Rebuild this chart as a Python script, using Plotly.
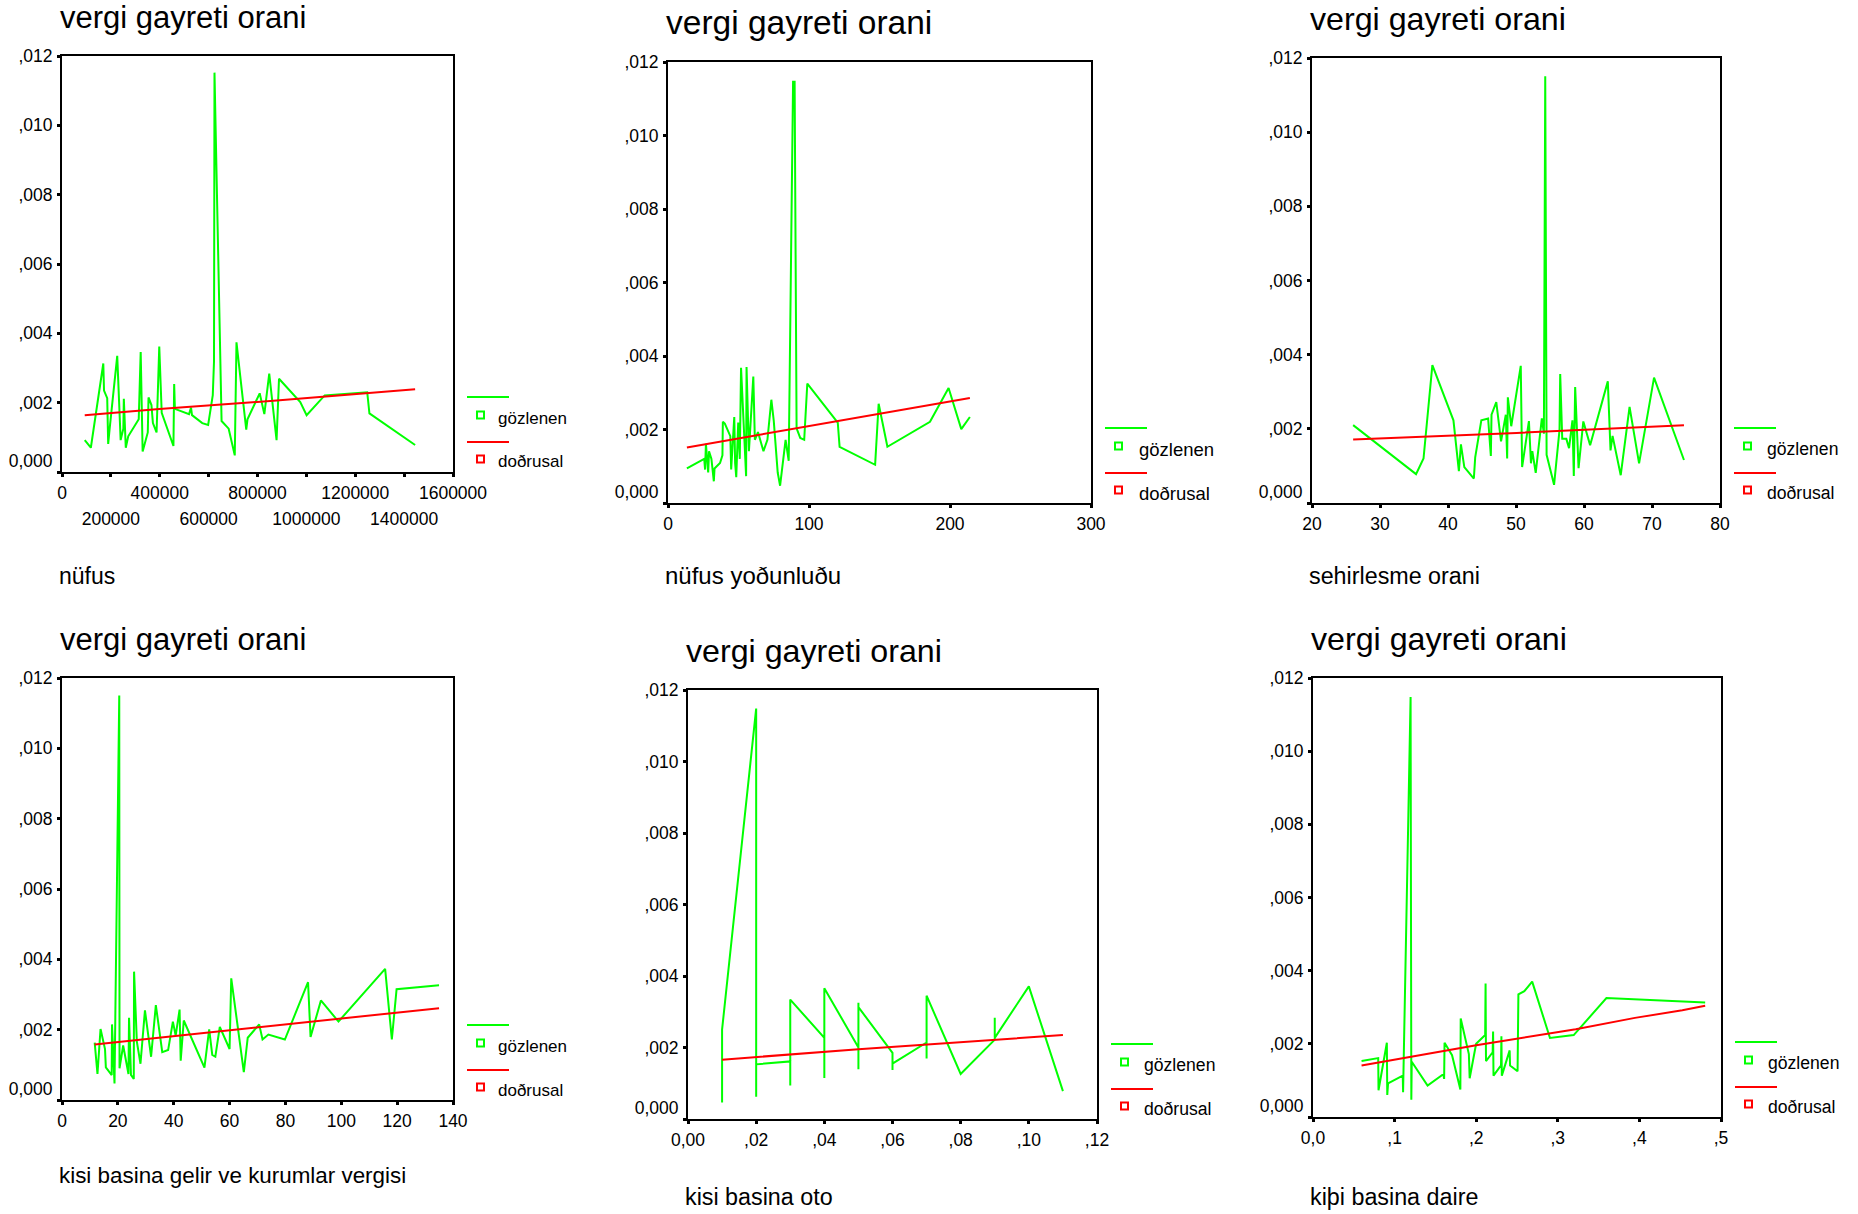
import plotly.graph_objects as go

W, H = 1858, 1214          # page size (body margin removed below)
FONT = "Liberation Sans, Arial, Helvetica, sans-serif"
GREEN = "#00ff00"
RED = "#ff0000"

# ---------------- data ----------------
# 1) nüfus
nufus_x = [93000, 118000, 169000, 172000, 185000, 189000, 195000, 226000, 240000, 251000,
           253000, 261000, 271000, 314000, 322000, 330000, 351000, 354000, 366000, 372000,
           387000, 398000, 408000, 456000, 459000, 462000, 520000, 528000, 532000, 574000,
           598000, 617000, 622000, 624000, 653000, 682000, 707000, 714000, 736000, 754000,
           759000, 809000, 828000, 848000, 878000, 888000, 975000, 1001000, 1075000, 1249000,
           1258000, 1445000]
nufus_obs = [.00092, .00070, .00313, .00235, .00213, .00081, .00125, .00335, .00092, .00125,
             .00211, .00070, .00103, .00152, .00346, .00059, .00114, .00215, .00193, .00141,
             .00114, .00362, .00171, .00075, .00254, .00182, .00167, .00186, .00164, .00141,
             .00136, .00222, .00318, .01152, .00147, .00125, .00048, .00374, .00235, .00122,
             .00152, .00227, .00167, .00284, .00092, .00269, .00202, .00164, .00221, .00230,
             .00169, .00078]
nufus_fit_x = [93000, 398000, 878000, 1249000, 1445000]
nufus_fit = [.00164, .00182, .00206, .00228, .00239]

# 2) nüfus yoðunluðu
yog_x = [13.4, 25.7, 26.3, 26.9, 28.5, 29.1, 30.8, 32.5, 33.0, 36.9, 38.6, 38.9, 40.3, 44.2,
         44.8, 47.0, 47.6, 48.4, 49.8, 50.9, 51.8, 55.4, 55.7, 56.8, 57.4, 60.5, 61.6, 63.8,
         67.7, 70.5, 73.3, 75.0, 77.8, 79.5, 83.4, 85.6, 88.7, 89.8, 91.2, 93.8, 96.6, 98.8,
         120.4, 121.7, 146.9, 149.4, 155.6, 185.8, 199.0, 208.0, 214.1]
yog_obs = [.00094, .0012, .00091, .00161, .00083, .00141, .0012, .00059, .00094, .00109, .0013,
           .00221, .00216, .00182, .00091, .00234, .00109, .0007, .00219, .0012, .00368, .00073,
           .0037, .00224, .00141, .00344, .00172, .00193, .00141, .00172, .00281, .00224, .00083,
           .00047, .00172, .00115, .01146, .01146, .00203, .00177, .00172, .00325, .00219, .00153,
           .00104, .0027, .00153, .00221, .00313, .00201, .00234]
yog_fit_x = [13.4, 99.4, 148.3, 214.1]
yog_fit = [.00151, .00208, .00242, .00286]

# 3) sehirlesme orani
seh_x = [26.05, 35.3, 36.4, 37.7, 40.8, 41.6, 41.9, 42.4, 43.8, 44.0, 44.9, 45.9, 46.3, 46.4,
         47.1, 47.8, 48.5, 48.7, 48.8, 49.3, 50.7, 50.9, 51.9, 52.2, 52.4, 52.9, 53.8, 54.1,
         54.3, 54.5, 55.6, 56.4, 56.5, 56.8, 57.4, 57.8, 58.3, 58.5, 58.7, 59.2, 59.9, 60.9,
         63.5, 63.9, 64.2, 65.4, 66.7, 68.1, 70.3, 74.7]
seh_obs = [.0021, .00078, .0012, .00372, .00223, .00086, .00158, .00097, .00066, .00123, .00223,
           .00228, .00127, .00238, .00272, .00166, .00238, .0012, .00285, .00207, .0037, .00097,
           .00221, .00107, .0014, .00081, .00228, .00187, .01151, .0013, .00049, .00197, .00348,
           .00173, .00173, .00148, .00223, .00073, .00313, .00094, .0022, .00156, .00328, .00142,
           .00181, .00075, .00259, .00107, .00338, .00116]
seh_fit_x = [26.05, 50.1, 74.7]
seh_fit = [.00171, .00189, .0021]

# 4) kisi basina gelir ve kurumlar vergisi
gel_x = [11.7, 12.7, 13.8, 15.4, 15.7, 17.8, 17.9, 18.8, 20.5, 20.6, 21.9, 23.8, 24.0, 24.7,
         25.7, 25.8, 26.8, 28.1, 29.7, 31.9, 33.6, 35.2, 35.9, 38.0, 39.7, 40.7, 42.1, 42.5,
         43.6, 51.0, 52.7, 53.8, 54.9, 56.5, 60.0, 60.6, 65.1, 66.5, 70.6, 71.8, 73.9, 79.8,
         88.1, 89.0, 92.7, 99.0, 115.7, 118.1, 119.8, 135.0]
gel_obs = [.00163, .00074, .00202, .00145, .00093, .00071, .00215, .00047, .0115, .0009, .00155,
           .00074, .00234, .00071, .0006, .00365, .00166, .00103, .00255, .00123, .0027, .00172,
           .00136, .00142, .00223, .00183, .00257, .00112, .00226, .00092, .00201, .00128, .00123,
           .00208, .00145, .00346, .00079, .00177, .00215, .00172, .00186, .00172, .00335, .00179,
           .00283, .00223, .00373, .00172, .00315, .00326]
gel_fit_x = [11.7, 60.0, 135.0]
gel_fit = [.00158, .00199, .00261]

# 5) kisi basina oto
oto_x = [0.01, 0.01, 0.02, 0.02, 0.02, 0.03, 0.03, 0.03, 0.03, 0.04, 0.04, 0.04, 0.05, 0.05,
         0.05, 0.05, 0.06, 0.06, 0.06, 0.07, 0.07, 0.07, 0.08, 0.09, 0.09, 0.09, 0.10, 0.11]
oto_obs = [.00046, .0025, .01148, .00062, .00153, .00161, .00094, .0027, .00334, .00227, .00115,
           .00366, .002, .00139, .00325, .00313, .00185, .00137, .00155, .00214, .00169, .00345,
           .00126, .00222, .00283, .00227, .00371, .00078]
oto_fit_x = [0.01, 0.05, 0.11]
oto_fit = [.00166, .00195, .00235]

# 6) kiþi basina daire
dai_x = [0.0595, 0.0799, 0.0803, 0.0905, 0.091, 0.092, 0.11, 0.1104, 0.1196, 0.1205, 0.121,
         0.1404, 0.1597, 0.1607, 0.1612, 0.1704, 0.1806, 0.181, 0.191, 0.192, 0.1999, 0.211,
         0.2115, 0.212, 0.2202, 0.2207, 0.2212, 0.2304, 0.2309, 0.2314, 0.241, 0.2415, 0.2507,
         0.2517, 0.259, 0.2686, 0.2904, 0.3195, 0.3596, 0.4806]
dai_obs = [.00153, .00161, .00073, .00203, .0006, .00092, .00113, .00068, .01148, .00047, .00151,
           .00086, .00117, .00104, .00203, .00169, .00075, .00269, .00172, .00106, .002, .00224,
           .00365, .00153, .00177, .00234, .00113, .00141, .00221, .00113, .00182, .00141, .00125,
           .00335, .00344, .0037, .00216, .00224, .00325, .00313]
dai_fit_x = [0.0595, 0.2, 0.322, 0.3945, 0.4526, 0.4806]
dai_fit = [.00141, .00196, .0024, .00271, .00292, .00304]

# tick labels
y_vals = [0, 0.002, 0.004, 0.006, 0.008, 0.010, 0.012]
y_text = ["0,000<br> ", ",002", ",004", ",006", ",008", ",010", ",012"]
nufus_ticks = [0, 400000, 800000, 1200000, 1600000]
nufus_ticks2 = [200000, 600000, 1000000, 1400000]
yog_ticks = [0, 100, 200, 300]
seh_ticks = [20, 30, 40, 50, 60, 70, 80]
gel_ticks = [0, 20, 40, 60, 80, 100, 120, 140]
oto_ticks = [0, 0.02, 0.04, 0.06, 0.08, 0.10, 0.12]
oto_text = ["0,00", ",02", ",04", ",06", ",08", ",10", ",12"]
dai_ticks = [0, 0.1, 0.2, 0.3, 0.4, 0.5]
dai_text = ["0,0", ",1", ",2", ",3", ",4", ",5"]

title_text = "vergi gayreti orani"
legend_labels = ["gözlenen", "doðrusal"]

# ---------------- layout config (page pixels) ----------------
panels = [
    dict(x=nufus_x, y=nufus_obs, fx=nufus_fit_x, fy=nufus_fit, box=(62, 56, 453, 472),
         xr=[0, 1600000], tv=nufus_ticks + nufus_ticks2,
         tt=[str(v) for v in nufus_ticks] + [""] * len(nufus_ticks2),
         xt="nüfus", xtb=584, tfs=31, xfs=23, lfs=17, lx=43),
    dict(x=yog_x, y=yog_obs, fx=yog_fit_x, fy=yog_fit, box=(668, 62, 1091, 503),
         xr=[0, 300], tv=yog_ticks, tt=[str(v) for v in yog_ticks],
         xt="nüfus yoðunluðu", xtb=584, tfs=33.5, xfs=24, lfs=18.5, lx=46),
    dict(x=seh_x, y=seh_obs, fx=seh_fit_x, fy=seh_fit, box=(1312, 58, 1720, 503),
         xr=[20, 80], tv=seh_ticks, tt=[str(v) for v in seh_ticks],
         xt="sehirlesme orani", xtb=584, tfs=32.2, xfs=23.3, lfs=17.6, lx=45),
    dict(x=gel_x, y=gel_obs, fx=gel_fit_x, fy=gel_fit, box=(62, 678, 453, 1100),
         xr=[0, 140], tv=gel_ticks, tt=[str(v) for v in gel_ticks],
         xt="kisi basina gelir ve kurumlar vergisi", xtb=1183, tfs=31, xfs=22.4, lfs=17, lx=43),
    dict(x=oto_x, y=oto_obs, fx=oto_fit_x, fy=oto_fit, box=(688, 690, 1097, 1119),
         xr=[0, 0.12], tv=oto_ticks, tt=oto_text,
         xt="kisi basina oto", xtb=1205, tfs=32.2, xfs=23.3, lfs=17.6, lx=45),
    dict(x=dai_x, y=dai_obs, fx=dai_fit_x, fy=dai_fit, box=(1313, 678, 1721, 1117),
         xr=[0, 0.5], tv=dai_ticks, tt=dai_text,
         xt="kiþi basina daire", xtb=1205, tfs=32.2, xfs=23.3, lfs=17.6, lx=45),
]


def px(xp):
    return xp / W


def py(yp):
    return 1 - yp / H


fig = go.Figure()
layout = dict(template="none", width=W, height=H,
              margin=dict(l=0, r=0, t=0, b=0, pad=0, autoexpand=False),
              paper_bgcolor="white", plot_bgcolor="white", showlegend=False,
              font=dict(family=FONT, color="black"))
shapes = []
annotations = []

TICKFONT = dict(family=FONT, size=17.5, color="black")
AXCOMMON = dict(showline=True, linecolor="black", linewidth=2, mirror=True,
                ticks="outside", ticklen=3, tickwidth=3, tickcolor="black",
                showgrid=False, zeroline=False, tickfont=TICKFONT, fixedrange=True,
                automargin=False)

for i, p in enumerate(panels, start=1):
    L, T, R, B = p["box"]
    xa = "x" if i == 1 else f"x{i}"
    ya = "y" if i == 1 else f"y{i}"
    fig.add_trace(go.Scatter(x=p["x"], y=p["y"], mode="lines", xaxis=xa, yaxis=ya,
                             line=dict(color=GREEN, width=2), name=legend_labels[0]))
    fig.add_trace(go.Scatter(x=p["fx"], y=p["fy"], mode="lines", xaxis=xa, yaxis=ya,
                             line=dict(color=RED, width=2), name=legend_labels[1]))
    layout[f"xaxis{'' if i == 1 else i}"] = dict(
        AXCOMMON, domain=[px(L), px(R)], anchor=ya, range=p["xr"],
        tickmode="array", tickvals=p["tv"], ticktext=p["tt"], ticklabelstandoff=1)
    layout[f"yaxis{'' if i == 1 else i}"] = dict(
        AXCOMMON, domain=[py(B), py(T)], anchor=xa, range=[0, 0.012],
        tickmode="array", tickvals=y_vals, ticktext=y_text, ticklabelstandoff=1)

    tfs = p["tfs"]
    # title (baseline ~28px above the frame)
    annotations.append(dict(text=title_text, xref="paper", yref="paper",
                            x=px(L - 4), y=py(T - 28 - 0.345 * tfs), xanchor="left",
                            yanchor="middle", showarrow=False,
                            font=dict(family=FONT, size=tfs, color="black")))
    # x-axis title
    annotations.append(dict(text=p["xt"], xref="paper", yref="paper",
                            x=px(L - 5), y=py(p["xtb"] - 0.345 * p["xfs"]), xanchor="left",
                            yanchor="middle", showarrow=False,
                            font=dict(family=FONT, size=p["xfs"], color="black")))
    # legend
    for k, (col, lab) in enumerate([(GREEN, legend_labels[0]), (RED, legend_labels[1])]):
        ly = B - 75 + 45 * k
        sy = B - 57 + 44 * k
        shapes.append(dict(type="line", xref="paper", yref="paper",
                           x0=px(R + 14), x1=px(R + 56), y0=py(ly), y1=py(ly),
                           line=dict(color=col, width=2)))
        shapes.append(dict(type="rect", xref="paper", yref="paper",
                           x0=px(R + 24), x1=px(R + 31), y0=py(sy + 3.5), y1=py(sy - 3.5),
                           line=dict(color=col, width=2), fillcolor="rgba(0,0,0,0)"))
        annotations.append(dict(text=lab, xref="paper", yref="paper",
                                x=px(R + p["lx"]), y=py(sy + 3), xanchor="left", yanchor="middle",
                                showarrow=False,
                                font=dict(family=FONT, size=p["lfs"], color="black")))

# second row of tick labels for the population axis
layout["xaxis7"] = dict(overlaying="x", anchor="y", range=panels[0]["xr"], showline=False,
                        showgrid=False, zeroline=False, ticks="", tickmode="array",
                        tickvals=nufus_ticks2, ticktext=[str(v) for v in nufus_ticks2],
                        tickfont=TICKFONT, ticklabelstandoff=34, fixedrange=True,
                        automargin=False)
fig.add_trace(go.Scatter(x=[nufus_ticks2[0]], y=[None], xaxis="x7", yaxis="y",
                         mode="lines", hoverinfo="skip", showlegend=False))

layout["shapes"] = shapes
layout["annotations"] = annotations
fig.update_layout(**layout)

fig.write_html("out.html", config={"displayModeBar": False, "responsive": False},
               post_script="document.body.style.margin='0px';")
